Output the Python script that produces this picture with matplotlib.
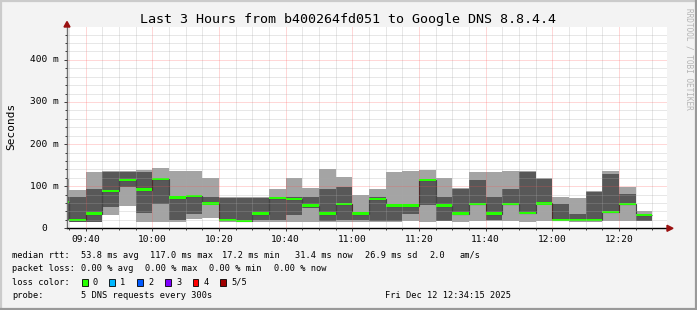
import matplotlib
matplotlib.use("Agg")
import matplotlib.pyplot as plt
from matplotlib.patches import Rectangle, Polygon
from matplotlib.lines import Line2D

# 5 minute steps, first one starts 09:30 (clipped at the left edge)
first_step = 9 * 60 + 30
step_len = 5
ping_min = [17, 15, 14, 32, 53, 15, 16, 15, 22, 24, 16, 15, 14, 16, 16, 16, 15, 14,
            16, 14, 16, 18, 14, 17, 16, 18, 18, 17, 16, 18, 17, 16, 16, 18, 18, 17]
ping_lo = [20, 16, 15, 50, 97, 36, 58, 19, 34, 55, 17, 16, 20, 20, 31, 49, 17, 20,
           19, 17, 18, 34, 55, 18, 33, 56, 20, 55, 35, 57, 18, 18, 18, 36, 56, 18]
ping_med = [62, 19, 35, 88, 114, 92, 117, 73, 76, 59, 19, 17.2, 35, 72, 70, 54, 35, 57,
            35, 70, 54, 54, 114.5, 54, 35, 57, 35, 57, 37, 59, 19, 19, 19, 38, 58, 31.4]
ping_hi = [74, 75, 93, 133, 134, 134.5, 118, 75, 78, 74, 73, 73, 73, 75, 74, 74, 93, 98,
           38, 75, 58, 56, 116, 74, 94, 114, 74, 93, 134, 118, 57, 34, 86, 128, 81, 35]
ping_max = [117, 91, 134, 135, 136, 139, 144, 137, 137, 120, 74, 74, 74, 93, 120, 95, 141, 121,
            80, 93, 134, 136, 139, 120, 95, 134, 134, 136, 136, 120, 74, 71, 88, 137, 99, 41]

x_tick_labels = ["09:40", "10:00", "10:20", "10:40", "11:00", "11:20", "11:40", "12:00", "12:20"]
y_tick_values = [0, 100, 200, 300, 400]
y_tick_labels = ["0", "100 m", "200 m", "300 m", "400 m"]

title = "Last 3 Hours from b400264fd051 to Google DNS 8.8.4.4"
rtt_items = ["median rtt:", "53.8 ms avg", "117.0 ms max", "17.2 ms min",
             "31.4 ms now", "26.9 ms sd", "2.0", "am/s"]
loss_items = ["packet loss:", "0.00 % avg", "0.00 % max", "0.00 % min", "0.00 % now"]
loss_labels = ["0", "1", "2", "3", "4", "5/5"]
loss_colors = ["#26ff00", "#00b8ff", "#0059ff", "#7e00ff", "#ff0000", "#a10000"]
probe_items = ["probe:", "5 DNS requests every 300s", "Fri Dec 12 12:34:15 2025"]

W, H = 697, 310
MONO = "DejaVu Sans Mono"
plt.rcParams["font.family"] = MONO


def fx(x):
    return x / W


def fy(y):
    return 1 - y / H


fig = plt.figure(figsize=(W / 100, H / 100), dpi=100, facecolor="#f3f3f3")
ax = fig.add_axes([fx(67), fy(228.3), 600 / W, 201 / H])
ax.set_facecolor("white")

lefts = [first_step + i * step_len for i in range(len(ping_med))]
edges = lefts + [lefts[-1] + step_len]
ax.bar(lefts, [b - a for a, b in zip(ping_min, ping_max)], bottom=ping_min, width=step_len,
       align="edge", color="#a4a4a4", linewidth=0)
ax.bar(lefts, [b - a for a, b in zip(ping_lo, ping_hi)], bottom=ping_lo, width=step_len,
       align="edge", color="#585858", linewidth=0)
ax.stairs(ping_med, edges, color="#202020", linewidth=0.8, baseline=None)
band = 5.6
ax.bar(lefts, band, bottom=[m - band / 2 for m in ping_med], width=step_len,
       align="edge", color=loss_colors[0], linewidth=0)

t0 = 574.4
ax.set_xlim(t0, t0 + 180)
ax.set_ylim(0, 477.4)
major_x = [580 + 20 * i for i in range(len(x_tick_labels))]
ax.set_xticks(major_x, x_tick_labels)
ax.set_xticks(range(575, 755, 5), minor=True)
ax.set_yticks(y_tick_values, [""] * len(y_tick_values))
ax.set_yticks(range(0, 480, 20), minor=True)

ax.set_axisbelow(False)
dots = (0, (1, 1))
ax.grid(which="minor", color="#a8a8a8", alpha=0.55, linestyle=dots, linewidth=0.72)
ax.grid(which="major", color="#ff5050", alpha=0.45, linestyle=dots, linewidth=0.72)

for s in ("top", "right"):
    ax.spines[s].set_visible(False)
ax.spines["bottom"].set_color("black")
ax.spines["bottom"].set_linewidth(1.0)
ax.spines["left"].set_color("#707070")
ax.spines["left"].set_linewidth(1.0)
ax.tick_params(which="both", direction="out", color="#404040", width=0.72)
ax.tick_params(which="major", length=2.5, labelsize=6.8, pad=2.2)
ax.tick_params(which="minor", length=1.6)

# y tick labels, placed like rrdtool does ("0" leaves room for the unit)
for v, lab in zip(y_tick_values, y_tick_labels):
    xr = 46.9 if lab == "0" else 58.5
    ax.text((xr - 67) / 600, v, lab, transform=ax.get_yaxis_transform(),
            ha="right", va="center", fontsize=6.8)

# arrows
arrow = "#9a1010"
fig.add_artist(Polygon([(fx(64), fy(27)), (fx(70), fy(27)), (fx(67), fy(21.5))],
                       closed=True, color=arrow, transform=fig.transFigure))
fig.add_artist(Polygon([(fx(667), fy(225.3)), (fx(667), fy(231.3)), (fx(673), fy(228.3))],
                       closed=True, color=arrow, transform=fig.transFigure))

fig.text(fx(348.5), fy(19.3), title, ha="center", va="center", fontsize=9.6)
fig.text(fx(11), fy(126), "Seconds", rotation=90, ha="center", va="center", fontsize=8.0)
fig.text(fx(689), fy(59), "RRDTOOL / TOBI OETIKER", rotation=-90, ha="center", va="center",
         fontsize=5.6, color="#b4b4b4")

leg_size = 6.25
for lab, x in zip(rtt_items, [12.3, 80.7, 150, 221.7, 295, 365, 429, 460]):
    fig.text(fx(x), fy(255), lab, ha="left", va="center", fontsize=leg_size)
for lab, x in zip(loss_items, [12.3, 80.7, 145, 209.3, 274]):
    fig.text(fx(x), fy(268.3), lab, ha="left", va="center", fontsize=leg_size)
fig.text(fx(12.3), fy(282.3), "loss color:", ha="left", va="center", fontsize=leg_size)
for lab, col, x in zip(loss_labels, loss_colors, [81.7, 109.3, 137.3, 165, 192.7, 220]):
    fig.add_artist(Rectangle((fx(x), fy(285.6)), 5.8 / W, 6.6 / H, facecolor=col,
                             edgecolor="black", linewidth=0.6, transform=fig.transFigure))
    fig.text(fx(x + 11), fy(282.3), lab, ha="left", va="center", fontsize=leg_size)
for lab, x in zip(probe_items, [12.3, 80.7, 385]):
    fig.text(fx(x), fy(296), lab, ha="left", va="center", fontsize=leg_size)

# frame shading
for xs, ys, c in [((0, W), (0.8, 0.8), "#cbcbcb"), ((0.8, 0.8), (0, H), "#cbcbcb"),
                  ((0, W), (H - 1, H - 1), "#999999"), ((W - 1, W - 1), (0, H), "#999999")]:
    fig.add_artist(Line2D([fx(v) for v in xs], [fy(v) for v in ys], color=c,
                          linewidth=1.6, transform=fig.transFigure))

fig.savefig("out.png", dpi=100, facecolor=fig.get_facecolor())
